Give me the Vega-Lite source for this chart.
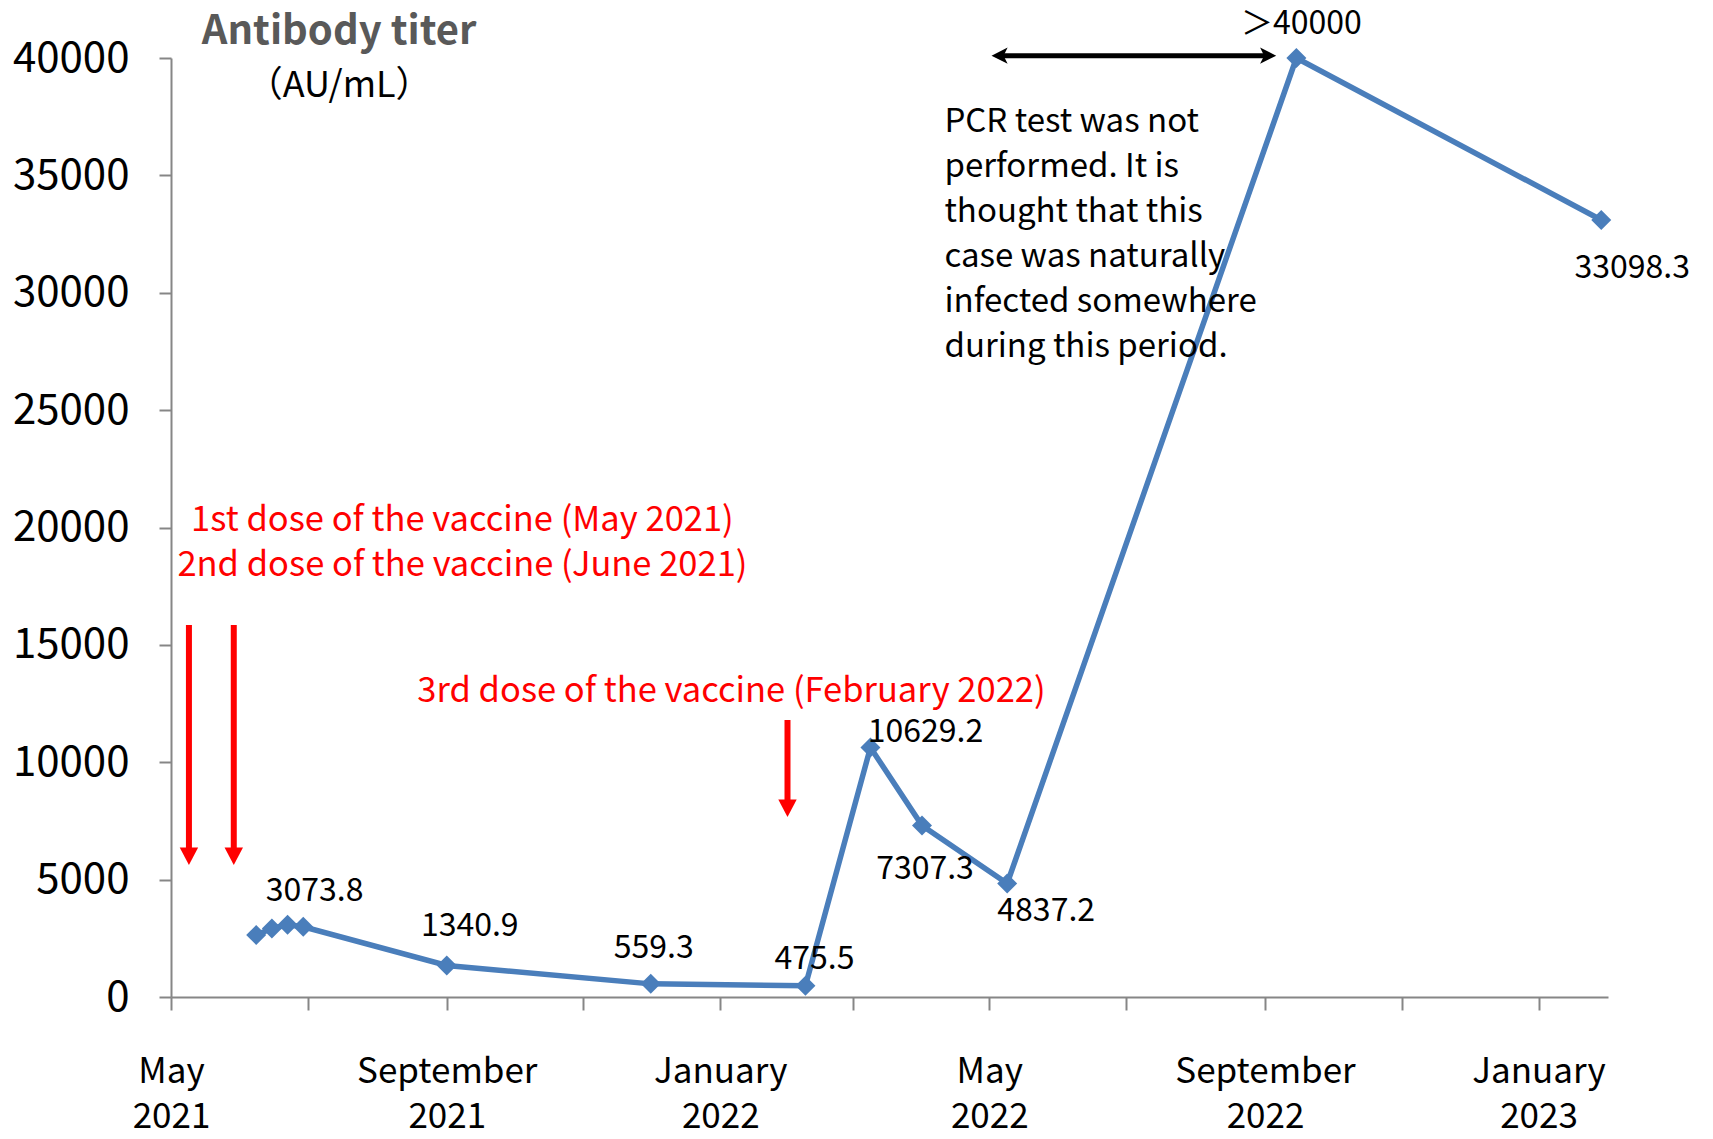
{
  "$schema": "https://vega.github.io/schema/vega-lite/v6.json",
  "width": 1437,
  "height": 939,
  "autosize": {"type": "none"},
  "padding": {"left": 171, "top": 58, "right": 105, "bottom": 142},
  "background": "white",
  "config": {"view": {"stroke": null}, "font": "Noto Sans CJK JP"},
  "datasets": {
    "titer": [
      {"date": "2021-06-08", "value": 2640, "label": ""},
      {"date": "2021-06-15", "value": 2920, "label": ""},
      {"date": "2021-06-22", "value": 3073.8, "label": "3073.8"},
      {"date": "2021-06-29", "value": 2990, "label": ""},
      {"date": "2021-09-01", "value": 1340.9, "label": "1340.9"},
      {"date": "2021-12-01", "value": 559.3, "label": "559.3"},
      {"date": "2022-02-08", "value": 475.5, "label": "475.5"},
      {"date": "2022-03-09", "value": 10629.2, "label": "10629.2"},
      {"date": "2022-04-01", "value": 7307.3, "label": "7307.3"},
      {"date": "2022-05-09", "value": 4837.2, "label": "4837.2"},
      {"date": "2022-09-15", "value": 40000, "label": "＞40000"},
      {"date": "2023-01-29", "value": 33098.3, "label": "33098.3"}
    ],
    "doses": [
      {"date": "2021-05-09", "top": 15850, "shaftEnd": 6050, "tip": 5620},
      {"date": "2021-05-29", "top": 15850, "shaftEnd": 6050, "tip": 5620},
      {"date": "2022-01-31", "top": 11800, "shaftEnd": 8100, "tip": 7670}
    ],
    "period": [
      {"start": "2022-05-02", "end": "2022-09-06", "innerStart": "2022-05-07", "innerEnd": "2022-09-01", "value": 40100}
    ],
    "doseNotes": [
      {"date": "2021-09-08", "value": 20270, "text": "1st dose of the vaccine (May 2021)"},
      {"date": "2021-09-08", "value": 18360, "text": "2nd dose of the vaccine (June 2021)"},
      {"date": "2022-01-06", "value": 13010, "text": "3rd dose of the vaccine (February 2022)"}
    ],
    "pcrNote": [
      {"date": "2022-04-11", "value": 37950, "text": ["PCR test was not", "performed. It is", "thought that this", "case was naturally", "infected somewhere", "during this period."]}
    ],
    "axisTitle": [
      {"date": "2021-07-15", "value": 41100, "text": "Antibody titer", "kind": "main"},
      {"date": "2021-07-15", "value": 38800, "text": "（AU/mL）", "kind": "unit"}
    ]
  },
  "layer": [
    {
      "data": {"name": "doses"},
      "mark": {"type": "rule", "color": "#FF0000", "strokeWidth": 6},
      "encoding": {
        "x": {"field": "date", "type": "temporal"},
        "y": {"field": "top", "type": "quantitative"},
        "y2": {"field": "shaftEnd"}
      }
    },
    {
      "data": {"name": "doses"},
      "mark": {"type": "point", "shape": "M-1,-1.9L1,-1.9L0,0Z", "size": 340, "filled": true, "color": "#FF0000", "opacity": 1},
      "encoding": {
        "x": {"field": "date", "type": "temporal"},
        "y": {"field": "tip", "type": "quantitative"}
      }
    },
    {
      "data": {"name": "period"},
      "mark": {"type": "rule", "color": "black", "strokeWidth": 5},
      "encoding": {
        "x": {"field": "innerStart", "type": "temporal"},
        "x2": {"field": "innerEnd"},
        "y": {"field": "value", "type": "quantitative"}
      }
    },
    {
      "data": {"name": "period"},
      "mark": {"type": "point", "shape": "M0,0L2,-1L1.5,0L2,1Z", "size": 260, "filled": true, "color": "black", "opacity": 1},
      "encoding": {
        "x": {"field": "start", "type": "temporal"},
        "y": {"field": "value", "type": "quantitative"}
      }
    },
    {
      "data": {"name": "period"},
      "mark": {"type": "point", "shape": "M0,0L-2,-1L-1.5,0L-2,1Z", "size": 260, "filled": true, "color": "black", "opacity": 1},
      "encoding": {
        "x": {"field": "end", "type": "temporal"},
        "y": {"field": "value", "type": "quantitative"}
      }
    },
    {
      "data": {"name": "titer"},
      "mark": {"type": "line", "color": "#4A7EBB", "strokeWidth": 5.5},
      "encoding": {
        "x": {
          "field": "date",
          "type": "temporal",
          "scale": {
            "type": "utc",
            "domain": [
              {"year": 2021, "month": 5, "date": 1, "utc": true},
              {"year": 2023, "month": 2, "date": 1, "utc": true}
            ],
            "nice": false
          },
          "axis": {
            "title": null,
            "grid": false,
            "tickCount": {"interval": "month", "step": 2},
            "labelExpr": "utcmonth(datum.value) % 4 == 0 ? [utcFormat(datum.value, '%B'), utcFormat(datum.value, '%Y')] : ''",
            "labelOverlap": false,
            "labelFlush": false,
            "labelBound": false,
            "labelLimit": 500,
            "labelFontSize": 35,
            "labelLineHeight": 45,
            "labelColor": "black",
            "labelPadding": 44,
            "labelBaseline": "top",
            "tickSize": 13,
            "tickWidth": 2,
            "tickColor": "#868686",
            "domainColor": "#868686",
            "domainWidth": 2
          }
        },
        "y": {
          "field": "value",
          "type": "quantitative",
          "scale": {"domain": [0, 40000], "nice": false},
          "axis": {
            "title": null,
            "grid": false,
            "values": [0, 5000, 10000, 15000, 20000, 25000, 30000, 35000, 40000],
            "format": "d",
            "labelFontSize": 42,
            "labelColor": "black",
            "labelPadding": 30,
            "tickSize": 12,
            "tickWidth": 2,
            "tickColor": "#868686",
            "domainColor": "#868686",
            "domainWidth": 2
          }
        }
      }
    },
    {
      "data": {"name": "titer"},
      "mark": {"type": "point", "shape": "diamond", "size": 400, "filled": true, "color": "#4A7EBB", "opacity": 1},
      "encoding": {
        "x": {"field": "date", "type": "temporal"},
        "y": {"field": "value", "type": "quantitative"}
      }
    },
    {
      "data": {"name": "titer"},
      "transform": [{"filter": "datum.label == '3073.8'"}],
      "mark": {"type": "text", "fontSize": 32, "color": "black", "dx": 27, "dy": -34},
      "encoding": {"x": {"field": "date", "type": "temporal"}, "y": {"field": "value", "type": "quantitative"}, "text": {"field": "label"}}
    },
    {
      "data": {"name": "titer"},
      "transform": [{"filter": "datum.label == '1340.9'"}],
      "mark": {"type": "text", "fontSize": 32, "color": "black", "dx": 23, "dy": -40},
      "encoding": {"x": {"field": "date", "type": "temporal"}, "y": {"field": "value", "type": "quantitative"}, "text": {"field": "label"}}
    },
    {
      "data": {"name": "titer"},
      "transform": [{"filter": "datum.label == '559.3'"}],
      "mark": {"type": "text", "fontSize": 32, "color": "black", "dx": 3, "dy": -36},
      "encoding": {"x": {"field": "date", "type": "temporal"}, "y": {"field": "value", "type": "quantitative"}, "text": {"field": "label"}}
    },
    {
      "data": {"name": "titer"},
      "transform": [{"filter": "datum.label == '475.5'"}],
      "mark": {"type": "text", "fontSize": 32, "color": "black", "dx": 9, "dy": -27},
      "encoding": {"x": {"field": "date", "type": "temporal"}, "y": {"field": "value", "type": "quantitative"}, "text": {"field": "label"}}
    },
    {
      "data": {"name": "titer"},
      "transform": [{"filter": "datum.label == '10629.2'"}],
      "mark": {"type": "text", "fontSize": 32, "color": "black", "dx": 55, "dy": -15},
      "encoding": {"x": {"field": "date", "type": "temporal"}, "y": {"field": "value", "type": "quantitative"}, "text": {"field": "label"}}
    },
    {
      "data": {"name": "titer"},
      "transform": [{"filter": "datum.label == '7307.3'"}],
      "mark": {"type": "text", "fontSize": 32, "color": "black", "dx": 3, "dy": 44},
      "encoding": {"x": {"field": "date", "type": "temporal"}, "y": {"field": "value", "type": "quantitative"}, "text": {"field": "label"}}
    },
    {
      "data": {"name": "titer"},
      "transform": [{"filter": "datum.label == '4837.2'"}],
      "mark": {"type": "text", "fontSize": 32, "color": "black", "dx": 39, "dy": 28},
      "encoding": {"x": {"field": "date", "type": "temporal"}, "y": {"field": "value", "type": "quantitative"}, "text": {"field": "label"}}
    },
    {
      "data": {"name": "titer"},
      "transform": [{"filter": "datum.label == '＞40000'"}],
      "mark": {"type": "text", "fontSize": 32, "color": "black", "dx": 5, "dy": -34},
      "encoding": {"x": {"field": "date", "type": "temporal"}, "y": {"field": "value", "type": "quantitative"}, "text": {"field": "label"}}
    },
    {
      "data": {"name": "titer"},
      "transform": [{"filter": "datum.label == '33098.3'"}],
      "mark": {"type": "text", "fontSize": 32, "color": "black", "dx": 31, "dy": 48},
      "encoding": {"x": {"field": "date", "type": "temporal"}, "y": {"field": "value", "type": "quantitative"}, "text": {"field": "label"}}
    },
    {
      "data": {"name": "doseNotes"},
      "mark": {"type": "text", "fontSize": 34.5, "color": "#FF0000", "align": "center", "baseline": "middle"},
      "encoding": {"x": {"field": "date", "type": "temporal"}, "y": {"field": "value", "type": "quantitative"}, "text": {"field": "text"}}
    },
    {
      "data": {"name": "pcrNote"},
      "mark": {"type": "text", "fontSize": 33, "color": "black", "align": "left", "baseline": "top", "lineHeight": 45},
      "encoding": {"x": {"field": "date", "type": "temporal"}, "y": {"field": "value", "type": "quantitative"}, "text": {"field": "text"}}
    },
    {
      "data": {"name": "axisTitle"},
      "transform": [{"filter": "datum.kind == 'main'"}],
      "mark": {"type": "text", "fontSize": 40, "fontWeight": "bold", "color": "#595959", "align": "center", "baseline": "middle"},
      "encoding": {"x": {"field": "date", "type": "temporal"}, "y": {"field": "value", "type": "quantitative"}, "text": {"field": "text"}}
    },
    {
      "data": {"name": "axisTitle"},
      "transform": [{"filter": "datum.kind == 'unit'"}],
      "mark": {"type": "text", "fontSize": 36, "color": "black", "align": "center", "baseline": "middle"},
      "encoding": {"x": {"field": "date", "type": "temporal"}, "y": {"field": "value", "type": "quantitative"}, "text": {"field": "text"}}
    }
  ]
}
